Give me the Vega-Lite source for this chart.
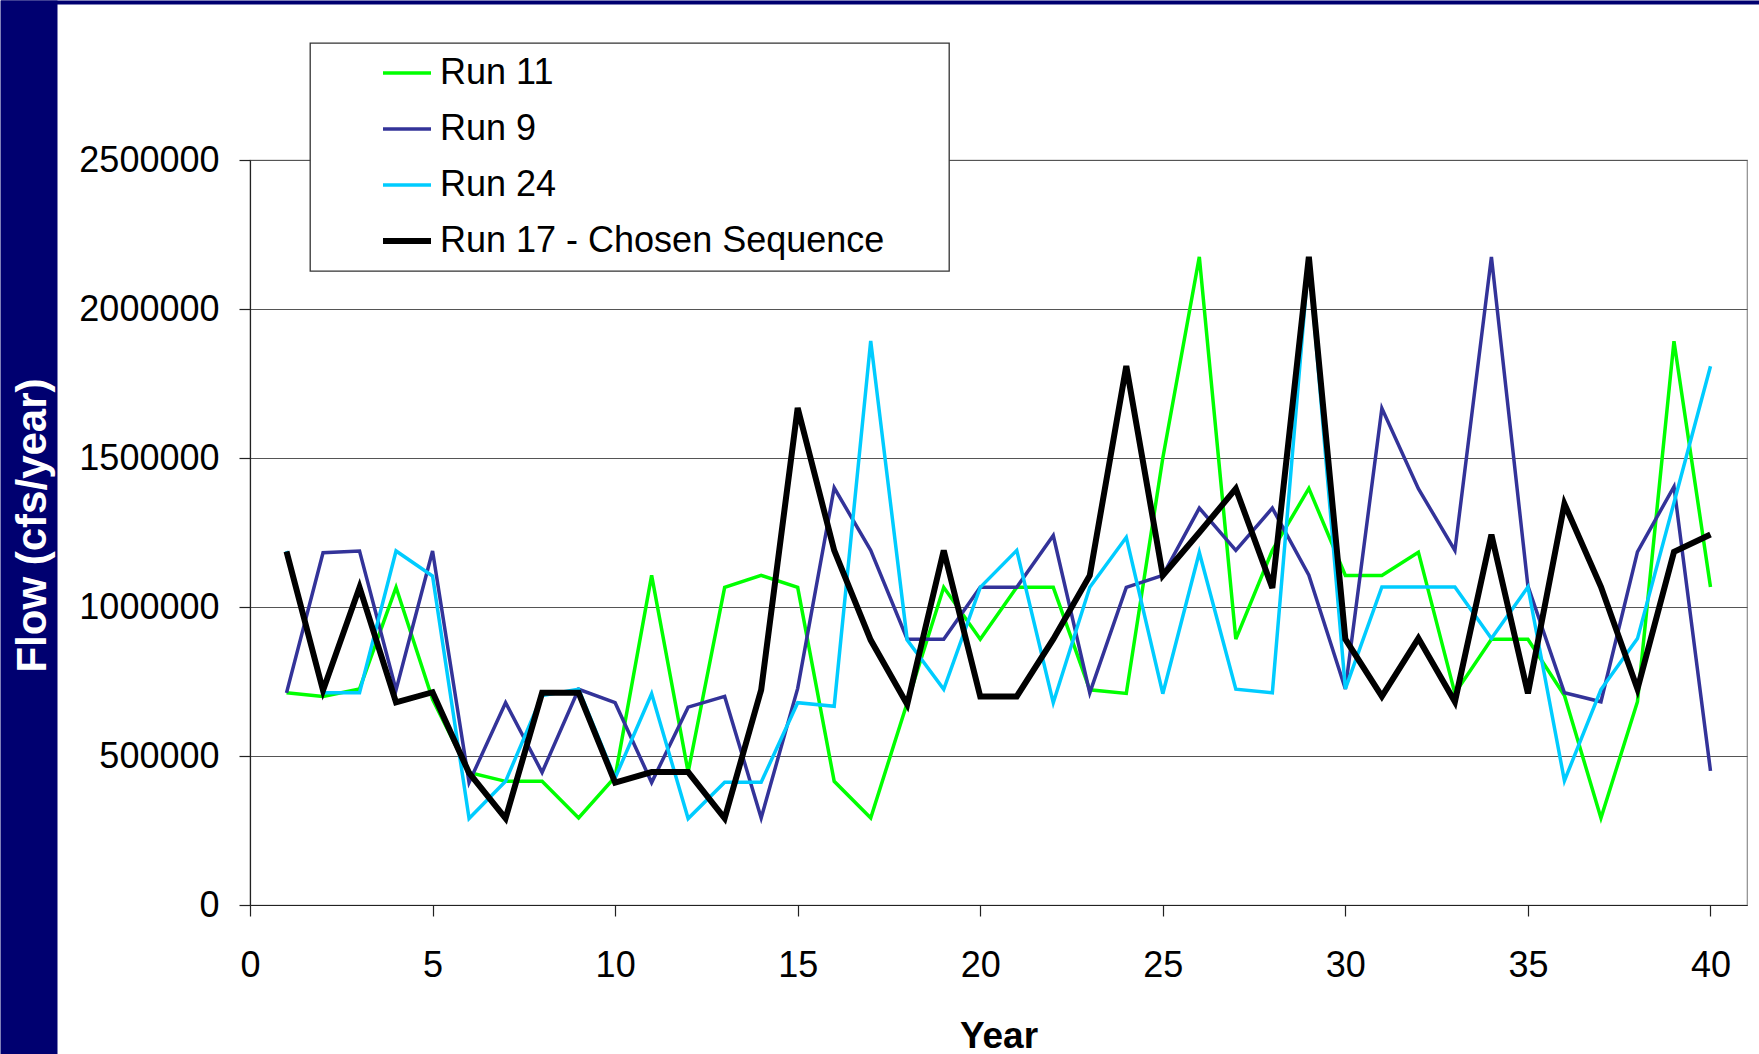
{
  "$schema": "https://vega.github.io/schema/vega-lite/v6.json",
  "width": 1497,
  "height": 745,
  "autosize": {"type": "none"},
  "padding": {"left": 250, "top": 160, "right": 12, "bottom": 149},
  "background": "white",
  "config": {
    "font": "Liberation Sans",
    "view": {"stroke": "#8c8c8c", "strokeWidth": 1.2},
    "axis": {"labelFont": "Liberation Sans", "labelColor": "black", "titleFont": "Liberation Sans", "labelFlush": false, "labelOverlap": false},
    "legend": {
      "orient": "none",
      "legendX": 60,
      "legendY": -117,
      "padding": 12,
      "rowPadding": 20,
      "fillColor": "white",
      "strokeColor": "#333333",
      "strokeWidth": 1.3,
      "symbolType": "stroke",
      "symbolSize": 2304,
      "symbolOffset": 67,
      "labelOffset": 15,
      "labelFont": "Liberation Sans",
      "labelFontSize": 36,
      "labelColor": "black",
      "labelLimit": 1200,
      "titleOrient": "right",
      "titlePadding": 53,
      "titleFontSize": 10,
      "zindex": 1
    }
  },
  "resolve": {"axis": {"x": "independent", "y": "independent"}},
  "layer": [
    {
      "data": {"values": [{"year": 20, "flow": 1000000}]},
      "mark": {"type": "point", "opacity": 0},
      "encoding": {
        "x": {
          "field": "year", "type": "quantitative",
          "scale": {"domain": [0, 41], "nice": false, "zero": false},
          "axis": {"orient": "top", "values": [17.241], "tickSize": 4, "tickWidth": 1759, "tickColor": "#000070", "domain": false, "labels": false, "grid": false, "title": null, "offset": 156}
        },
        "y": {
          "field": "flow", "type": "quantitative",
          "scale": {"domain": [0, 2500000], "nice": false},
          "axis": {"orient": "left", "values": [1268456], "tickSize": 57, "tickWidth": 1054, "tickColor": "#000070", "domain": false, "labels": false, "grid": false, "title": null, "offset": 193}
        }
      }
    },
    {
      "data": {
        "values": [
          {"series": "Run 11", "year": 1, "flow": 712000},
          {"series": "Run 11", "year": 2, "flow": 700000},
          {"series": "Run 11", "year": 3, "flow": 725000},
          {"series": "Run 11", "year": 4, "flow": 1066000},
          {"series": "Run 11", "year": 5, "flow": 690000},
          {"series": "Run 11", "year": 6, "flow": 445000},
          {"series": "Run 11", "year": 7, "flow": 415000},
          {"series": "Run 11", "year": 8, "flow": 415000},
          {"series": "Run 11", "year": 9, "flow": 292000},
          {"series": "Run 11", "year": 10, "flow": 430000},
          {"series": "Run 11", "year": 11, "flow": 1106000},
          {"series": "Run 11", "year": 12, "flow": 446000},
          {"series": "Run 11", "year": 13, "flow": 1066000},
          {"series": "Run 11", "year": 14, "flow": 1106000},
          {"series": "Run 11", "year": 15, "flow": 1066000},
          {"series": "Run 11", "year": 16, "flow": 415000},
          {"series": "Run 11", "year": 17, "flow": 292000},
          {"series": "Run 11", "year": 18, "flow": 679000},
          {"series": "Run 11", "year": 19, "flow": 1066000},
          {"series": "Run 11", "year": 20, "flow": 892000},
          {"series": "Run 11", "year": 21, "flow": 1066000},
          {"series": "Run 11", "year": 22, "flow": 1066000},
          {"series": "Run 11", "year": 23, "flow": 722000},
          {"series": "Run 11", "year": 24, "flow": 710000},
          {"series": "Run 11", "year": 25, "flow": 1500000},
          {"series": "Run 11", "year": 26, "flow": 2175000},
          {"series": "Run 11", "year": 27, "flow": 892000},
          {"series": "Run 11", "year": 28, "flow": 1190000},
          {"series": "Run 11", "year": 29, "flow": 1398000},
          {"series": "Run 11", "year": 30, "flow": 1106000},
          {"series": "Run 11", "year": 31, "flow": 1106000},
          {"series": "Run 11", "year": 32, "flow": 1184000},
          {"series": "Run 11", "year": 33, "flow": 710000},
          {"series": "Run 11", "year": 34, "flow": 892000},
          {"series": "Run 11", "year": 35, "flow": 892000},
          {"series": "Run 11", "year": 36, "flow": 703000},
          {"series": "Run 11", "year": 37, "flow": 292000},
          {"series": "Run 11", "year": 38, "flow": 682000},
          {"series": "Run 11", "year": 39, "flow": 1892000},
          {"series": "Run 11", "year": 40, "flow": 1067000},
          {"series": "Run 9", "year": 1, "flow": 712000},
          {"series": "Run 9", "year": 2, "flow": 1182000},
          {"series": "Run 9", "year": 3, "flow": 1188000},
          {"series": "Run 9", "year": 4, "flow": 722000},
          {"series": "Run 9", "year": 5, "flow": 1188000},
          {"series": "Run 9", "year": 6, "flow": 411000},
          {"series": "Run 9", "year": 7, "flow": 679000},
          {"series": "Run 9", "year": 8, "flow": 445000},
          {"series": "Run 9", "year": 9, "flow": 724000},
          {"series": "Run 9", "year": 10, "flow": 679000},
          {"series": "Run 9", "year": 11, "flow": 411000},
          {"series": "Run 9", "year": 12, "flow": 664000},
          {"series": "Run 9", "year": 13, "flow": 700000},
          {"series": "Run 9", "year": 14, "flow": 292000},
          {"series": "Run 9", "year": 15, "flow": 727000},
          {"series": "Run 9", "year": 16, "flow": 1400000},
          {"series": "Run 9", "year": 17, "flow": 1190000},
          {"series": "Run 9", "year": 18, "flow": 892000},
          {"series": "Run 9", "year": 19, "flow": 892000},
          {"series": "Run 9", "year": 20, "flow": 1066000},
          {"series": "Run 9", "year": 21, "flow": 1066000},
          {"series": "Run 9", "year": 22, "flow": 1240000},
          {"series": "Run 9", "year": 23, "flow": 712000},
          {"series": "Run 9", "year": 24, "flow": 1066000},
          {"series": "Run 9", "year": 25, "flow": 1106000},
          {"series": "Run 9", "year": 26, "flow": 1332000},
          {"series": "Run 9", "year": 27, "flow": 1190000},
          {"series": "Run 9", "year": 28, "flow": 1332000},
          {"series": "Run 9", "year": 29, "flow": 1107000},
          {"series": "Run 9", "year": 30, "flow": 725000},
          {"series": "Run 9", "year": 31, "flow": 1667000},
          {"series": "Run 9", "year": 32, "flow": 1397000},
          {"series": "Run 9", "year": 33, "flow": 1190000},
          {"series": "Run 9", "year": 34, "flow": 2175000},
          {"series": "Run 9", "year": 35, "flow": 1070000},
          {"series": "Run 9", "year": 36, "flow": 712000},
          {"series": "Run 9", "year": 37, "flow": 682000},
          {"series": "Run 9", "year": 38, "flow": 1185000},
          {"series": "Run 9", "year": 39, "flow": 1404000},
          {"series": "Run 9", "year": 40, "flow": 450000},
          {"series": "Run 24", "year": 1, "flow": 1188000},
          {"series": "Run 24", "year": 2, "flow": 712000},
          {"series": "Run 24", "year": 3, "flow": 712000},
          {"series": "Run 24", "year": 4, "flow": 1188000},
          {"series": "Run 24", "year": 5, "flow": 1104000},
          {"series": "Run 24", "year": 6, "flow": 290000},
          {"series": "Run 24", "year": 7, "flow": 415000},
          {"series": "Run 24", "year": 8, "flow": 703000},
          {"series": "Run 24", "year": 9, "flow": 724000},
          {"series": "Run 24", "year": 10, "flow": 426000},
          {"series": "Run 24", "year": 11, "flow": 709000},
          {"series": "Run 24", "year": 12, "flow": 290000},
          {"series": "Run 24", "year": 13, "flow": 412000},
          {"series": "Run 24", "year": 14, "flow": 412000},
          {"series": "Run 24", "year": 15, "flow": 679000},
          {"series": "Run 24", "year": 16, "flow": 667000},
          {"series": "Run 24", "year": 17, "flow": 1893000},
          {"series": "Run 24", "year": 18, "flow": 889000},
          {"series": "Run 24", "year": 19, "flow": 724000},
          {"series": "Run 24", "year": 20, "flow": 1066000},
          {"series": "Run 24", "year": 21, "flow": 1190000},
          {"series": "Run 24", "year": 22, "flow": 679000},
          {"series": "Run 24", "year": 23, "flow": 1066000},
          {"series": "Run 24", "year": 24, "flow": 1234000},
          {"series": "Run 24", "year": 25, "flow": 709000},
          {"series": "Run 24", "year": 26, "flow": 1183000},
          {"series": "Run 24", "year": 27, "flow": 724000},
          {"series": "Run 24", "year": 28, "flow": 712000},
          {"series": "Run 24", "year": 29, "flow": 2170000},
          {"series": "Run 24", "year": 30, "flow": 725000},
          {"series": "Run 24", "year": 31, "flow": 1067000},
          {"series": "Run 24", "year": 32, "flow": 1067000},
          {"series": "Run 24", "year": 33, "flow": 1067000},
          {"series": "Run 24", "year": 34, "flow": 894000},
          {"series": "Run 24", "year": 35, "flow": 1067000},
          {"series": "Run 24", "year": 36, "flow": 417000},
          {"series": "Run 24", "year": 37, "flow": 723000},
          {"series": "Run 24", "year": 38, "flow": 894000},
          {"series": "Run 24", "year": 39, "flow": 1350000},
          {"series": "Run 24", "year": 40, "flow": 1808000},
          {"series": "Run 17 - Chosen Sequence", "year": 1, "flow": 1186000},
          {"series": "Run 17 - Chosen Sequence", "year": 2, "flow": 720000},
          {"series": "Run 17 - Chosen Sequence", "year": 3, "flow": 1066000},
          {"series": "Run 17 - Chosen Sequence", "year": 4, "flow": 680000},
          {"series": "Run 17 - Chosen Sequence", "year": 5, "flow": 714000},
          {"series": "Run 17 - Chosen Sequence", "year": 6, "flow": 443000},
          {"series": "Run 17 - Chosen Sequence", "year": 7, "flow": 291000},
          {"series": "Run 17 - Chosen Sequence", "year": 8, "flow": 712000},
          {"series": "Run 17 - Chosen Sequence", "year": 9, "flow": 712000},
          {"series": "Run 17 - Chosen Sequence", "year": 10, "flow": 411000},
          {"series": "Run 17 - Chosen Sequence", "year": 11, "flow": 446000},
          {"series": "Run 17 - Chosen Sequence", "year": 12, "flow": 446000},
          {"series": "Run 17 - Chosen Sequence", "year": 13, "flow": 291000},
          {"series": "Run 17 - Chosen Sequence", "year": 14, "flow": 722000},
          {"series": "Run 17 - Chosen Sequence", "year": 15, "flow": 1668000},
          {"series": "Run 17 - Chosen Sequence", "year": 16, "flow": 1190000},
          {"series": "Run 17 - Chosen Sequence", "year": 17, "flow": 889000},
          {"series": "Run 17 - Chosen Sequence", "year": 18, "flow": 673000},
          {"series": "Run 17 - Chosen Sequence", "year": 19, "flow": 1190000},
          {"series": "Run 17 - Chosen Sequence", "year": 20, "flow": 700000},
          {"series": "Run 17 - Chosen Sequence", "year": 21, "flow": 700000},
          {"series": "Run 17 - Chosen Sequence", "year": 22, "flow": 892000},
          {"series": "Run 17 - Chosen Sequence", "year": 23, "flow": 1106000},
          {"series": "Run 17 - Chosen Sequence", "year": 24, "flow": 1809000},
          {"series": "Run 17 - Chosen Sequence", "year": 25, "flow": 1106000},
          {"series": "Run 17 - Chosen Sequence", "year": 26, "flow": 1250000},
          {"series": "Run 17 - Chosen Sequence", "year": 27, "flow": 1397000},
          {"series": "Run 17 - Chosen Sequence", "year": 28, "flow": 1064000},
          {"series": "Run 17 - Chosen Sequence", "year": 29, "flow": 2175000},
          {"series": "Run 17 - Chosen Sequence", "year": 30, "flow": 892000},
          {"series": "Run 17 - Chosen Sequence", "year": 31, "flow": 700000},
          {"series": "Run 17 - Chosen Sequence", "year": 32, "flow": 895000},
          {"series": "Run 17 - Chosen Sequence", "year": 33, "flow": 682000},
          {"series": "Run 17 - Chosen Sequence", "year": 34, "flow": 1243000},
          {"series": "Run 17 - Chosen Sequence", "year": 35, "flow": 710000},
          {"series": "Run 17 - Chosen Sequence", "year": 36, "flow": 1346000},
          {"series": "Run 17 - Chosen Sequence", "year": 37, "flow": 1068000},
          {"series": "Run 17 - Chosen Sequence", "year": 38, "flow": 725000},
          {"series": "Run 17 - Chosen Sequence", "year": 39, "flow": 1185000},
          {"series": "Run 17 - Chosen Sequence", "year": 40, "flow": 1243000}
        ]
      },
      "mark": {"type": "line"},
      "encoding": {
        "x": {
          "field": "year", "type": "quantitative",
          "scale": {"domain": [0, 41], "nice": false, "zero": false},
          "axis": {
            "orient": "bottom",
            "values": [0, 5, 10, 15, 20, 25, 30, 35, 40],
            "grid": false,
            "domainColor": "#222222", "domainWidth": 1.2,
            "tickColor": "#222222", "tickSize": 11, "tickWidth": 1.2,
            "labelFontSize": 36, "labelPadding": 32,
            "title": "Year", "titleFontSize": 37, "titleFontWeight": "bold", "titleColor": "black",
            "titleX": 748.5, "titleY": 142, "titleBaseline": "alphabetic", "titleAlign": "center"
          }
        },
        "y": {
          "field": "flow", "type": "quantitative",
          "scale": {"domain": [0, 2500000], "nice": false},
          "axis": {
            "orient": "left",
            "values": [0, 500000, 1000000, 1500000, 2000000, 2500000],
            "format": "d",
            "grid": true, "gridColor": "#555555", "gridWidth": 1.2,
            "domainColor": "#222222", "domainWidth": 1.2,
            "tickColor": "#222222", "tickSize": 11, "tickWidth": 1.2,
            "labelFontSize": 36, "labelPadding": 20,
            "title": "Flow (cfs/year)", "titleFontSize": 42, "titleFontWeight": "bold", "titleColor": "white",
            "titleAngle": -90, "titleX": -205, "titleY": 365, "titleBaseline": "alphabetic", "titleAlign": "center"
          }
        },
        "color": {
          "field": "series", "type": "nominal",
          "scale": {"domain": ["Run 11", "Run 9", "Run 24", "Run 17 - Chosen Sequence"], "range": ["#00ff00", "#333399", "#00ccff", "#000000"]},
          "legend": {
            "title": "\u00a0",
            "encode": {
              "symbols": {"update": {"strokeWidth": {"signal": "datum.value === 'Run 17 - Chosen Sequence' ? 6 : 3.5"}}}
            }
          }
        },
        "strokeWidth": {
          "condition": {"test": "datum.series === 'Run 17 - Chosen Sequence'", "value": 6},
          "value": 3.5
        }
      }
    }
  ]
}
